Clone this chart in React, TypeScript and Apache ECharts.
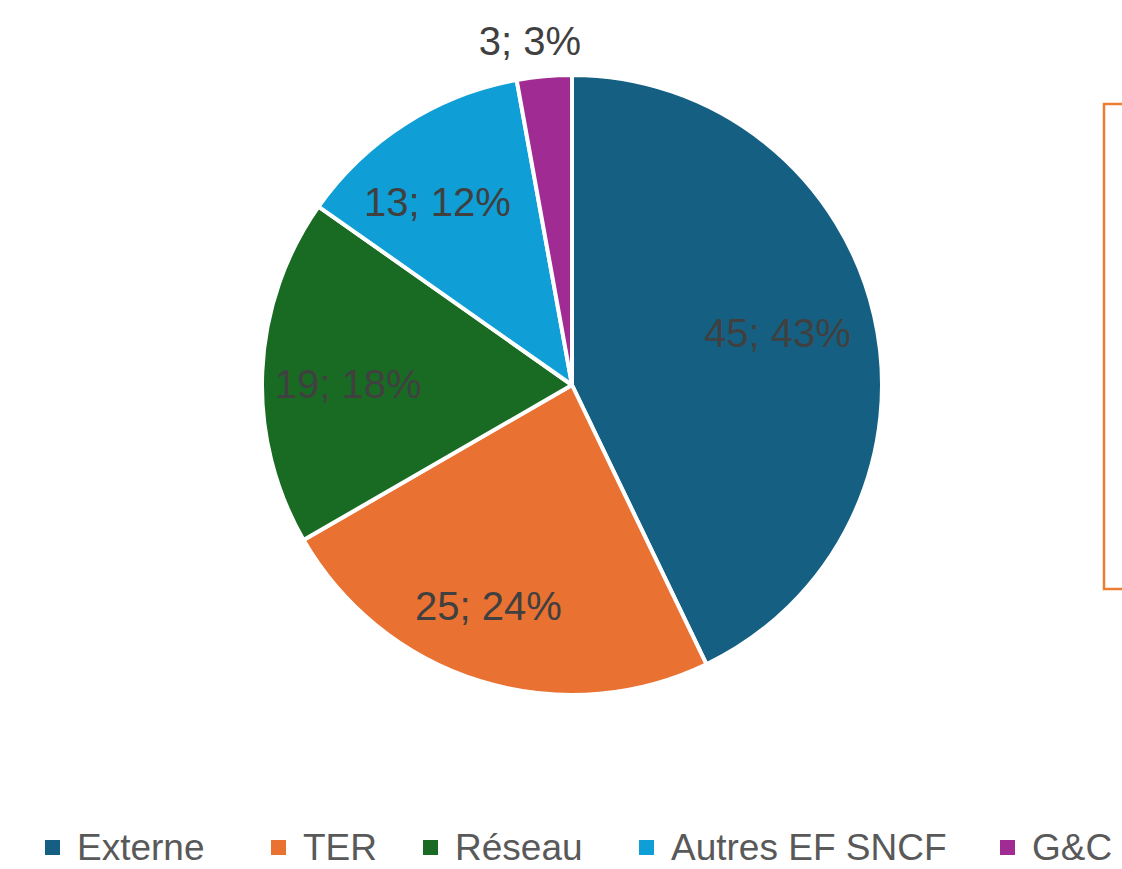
import React, { useEffect, useRef } from "react";
import * as echarts from "echarts";

const categories = ["Externe", "TER", "Réseau", "Autres EF SNCF", "G&C"];
const values = [45, 25, 19, 13, 3];
const colors = ["#156082", "#E97132", "#196B24", "#0F9ED5", "#A02B93"];
const outsideLabelCategories = ["G&C"];

const FONT = "'Liberation Sans', Arial, sans-serif";

// small nudges so the labels sit where the reference's layout puts them
const labelNudges: number[][] = [[-15, -2], [-17, 5], [2, 9], [-13, 7], [-11, 2]];
// left edges of the legend markers
const legendLefts = [43, 269, 421, 637, 998];

export default function App() {
  const ref = useRef<HTMLDivElement>(null);
  useEffect(() => {
    if (!ref.current) return;
    const chart = echarts.init(ref.current, undefined, { renderer: "svg" });
    const cx = 572;
    const cy = 385;
    const R = 310;
    const fmt = (p: any) => `${p.value}; ${Math.round(p.percent)}%`;
    const mainData = categories.map((name, i) => ({
      name,
      value: values[i],
      itemStyle: { color: colors[i] },
    }));
    const innerLabelData = categories.map((name, i) => ({
      name,
      value: values[i],
      label: { show: !outsideLabelCategories.includes(name), offset: labelNudges[i] },
    }));
    const outerLabelData = categories.map((name, i) => ({
      name,
      value: values[i],
      label: { show: outsideLabelCategories.includes(name), offset: labelNudges[i] },
    }));
    const labelStyle = {
      position: "inside",
      formatter: fmt,
      fontSize: 40,
      fontFamily: FONT,
      color: "#404040",
    };
    chart.setOption({
      animation: false,
      backgroundColor: "#ffffff",
      legend: categories.map((name, i) => ({
        data: [name],
        left: legendLefts[i],
        top: 829,
        padding: 0,
        icon: "rect",
        itemWidth: 17,
        itemHeight: 17,
        textStyle: {
          fontSize: 37,
          lineHeight: 36,
          color: "#595959",
          fontFamily: FONT,
          padding: [0, 0, 0, 11],
        },
      })),
      graphic: [
        {
          type: "rect",
          shape: { x: 1104, y: 104, width: 100, height: 485 },
          style: { fill: "none", stroke: "#ED7D31", lineWidth: 2.5 },
          silent: true,
        },
      ],
      series: [
        {
          type: "pie",
          center: [cx, cy],
          radius: R,
          startAngle: 90,
          clockwise: true,
          label: { show: false },
          labelLine: { show: false },
          itemStyle: { borderColor: "#ffffff", borderWidth: 4 },
          emphasis: { disabled: true },
          data: mainData,
        },
        {
          type: "pie",
          center: [cx, cy],
          radius: [136, R],
          startAngle: 90,
          clockwise: true,
          silent: true,
          legendHoverLink: false,
          itemStyle: { color: "rgba(0,0,0,0)", borderWidth: 0 },
          label: labelStyle,
          labelLine: { show: false },
          emphasis: { disabled: true },
          data: innerLabelData,
        },
        {
          type: "pie",
          center: [cx, cy],
          radius: [R, R + 68],
          startAngle: 90,
          clockwise: true,
          silent: true,
          legendHoverLink: false,
          itemStyle: { color: "rgba(0,0,0,0)", borderWidth: 0 },
          label: labelStyle,
          labelLine: { show: false },
          emphasis: { disabled: true },
          data: outerLabelData,
        },
      ],
    });
    return () => chart.dispose();
  }, []);
  return (
    <div
      ref={ref}
      style={{ position: "fixed", left: 0, top: 0, width: 1122, height: 869 }}
    />
  );
}
